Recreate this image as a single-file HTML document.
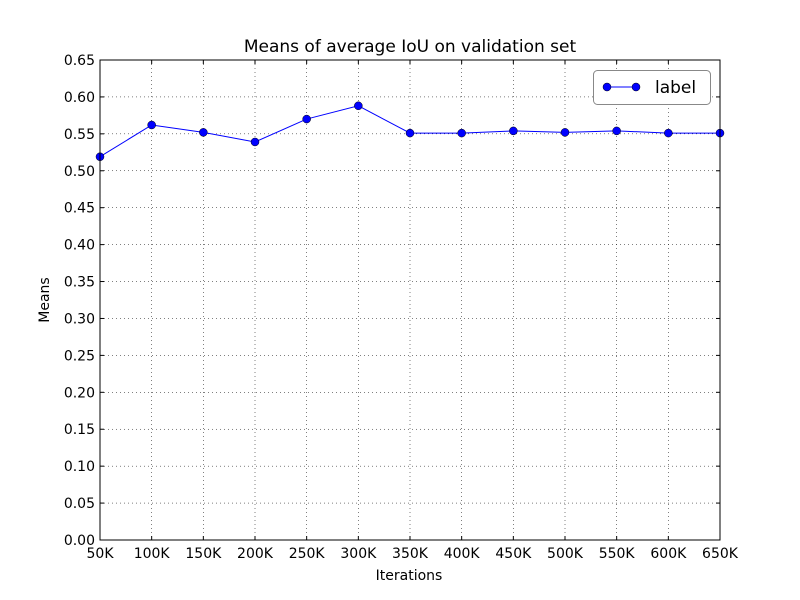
<!DOCTYPE html>
<html><head><meta charset="utf-8"><style>
html,body{margin:0;padding:0;background:#fff;}
svg{display:block;font-family:"DejaVu Sans","Liberation Sans",sans-serif;}
</style></head><body>
<svg id="chart" width="800" height="600" xmlns="http://www.w3.org/2000/svg">
<rect width="800" height="600" fill="#fff"/>
<text x="410" y="52" font-size="17" text-anchor="middle">Means of average IoU on validation set</text>
<text x="409" y="580" font-size="14" text-anchor="middle">Iterations</text>
<text transform="translate(49,300) rotate(-90)" font-size="14" text-anchor="middle">Means</text>
<g id="grid"></g><g id="ticks"></g><g id="series"></g>
<rect x="100" y="60" width="620" height="480" fill="none" stroke="#000" stroke-width="1"/>
<g>
<rect x="593.5" y="70.5" width="117" height="34" rx="4" fill="#fff" stroke="#888"/>
<line x1="603" y1="87" x2="637" y2="87" stroke="#0000ff" stroke-width="1"/>
<circle cx="607" cy="87" r="4" fill="#0000ff" stroke="#000" stroke-width="0.5"/>
<circle cx="636" cy="87" r="4" fill="#0000ff" stroke="#000" stroke-width="0.5"/>
<text x="655" y="93" font-size="17">label</text>
</g>
</svg>
<script>
const categories=["50K","100K","150K","200K","250K","300K","350K","400K","450K","500K","550K","600K","650K"];
const values=[0.519,0.562,0.552,0.539,0.570,0.588,0.551,0.551,0.554,0.552,0.554,0.551,0.551];
const yTicks=[0,0.05,0.1,0.15,0.2,0.25,0.3,0.35,0.4,0.45,0.5,0.55,0.6,0.65];
const NS="http://www.w3.org/2000/svg";
const L=100,R=720,T=60,B=540,YMAX=0.65;
const xs=i=>L+(R-L)*i/(categories.length-1);
const ys=v=>B-(B-T)*v/YMAX;
function mk(tag,attrs,parent){const e=document.createElementNS(NS,tag);for(const k in attrs)e.setAttribute(k,attrs[k]);parent.appendChild(e);return e;}
const grid=document.getElementById('grid'),ticks=document.getElementById('ticks'),series=document.getElementById('series');
yTicks.forEach(v=>{const y=ys(v);
 const g=mk('line',{x1:L,x2:R,y1:y,y2:y,stroke:'#000','stroke-width':0.5,'stroke-dasharray':'1,3'},grid);
 
 
 const t1=mk('line',{x1:L,x2:L+4,y1:y,y2:y,stroke:'#000'},ticks);
 
 
 const t2=mk('line',{x1:R-4,x2:R,y1:y,y2:y,stroke:'#000'},ticks);
 
 
 const tx=mk('text',{x:L-5,y:y+5,'font-size':14,'text-anchor':'end'},ticks);tx.textContent=v.toFixed(2);
 
 
});
categories.forEach((c,i)=>{const x=xs(i);
 const g=mk('line',{x1:x,x2:x,y1:T,y2:B,stroke:'#000','stroke-width':0.5,'stroke-dasharray':'1,3'},grid);
 
 
 const t1=mk('line',{x1:x,x2:x,y1:B-4,y2:B,stroke:'#000'},ticks);
 
 
 const t2=mk('line',{x1:x,x2:x,y1:T,y2:T+4,stroke:'#000'},ticks);
 
 
 const tx=mk('text',{x:x,y:B+18,'font-size':14,'text-anchor':'middle'},ticks);tx.textContent=c;
 
 
});
const pl=mk('polyline',{points:values.map((v,i)=>xs(i)+','+ys(v)).join(' '),fill:'none',stroke:'#0000ff','stroke-width':1},series);


values.forEach((v,i)=>{
 const c=mk('circle',{cx:xs(i),cy:ys(v),r:4,fill:'#0000ff',stroke:'#000','stroke-width':0.5},series);
 
 
});
</script>
</body></html>
